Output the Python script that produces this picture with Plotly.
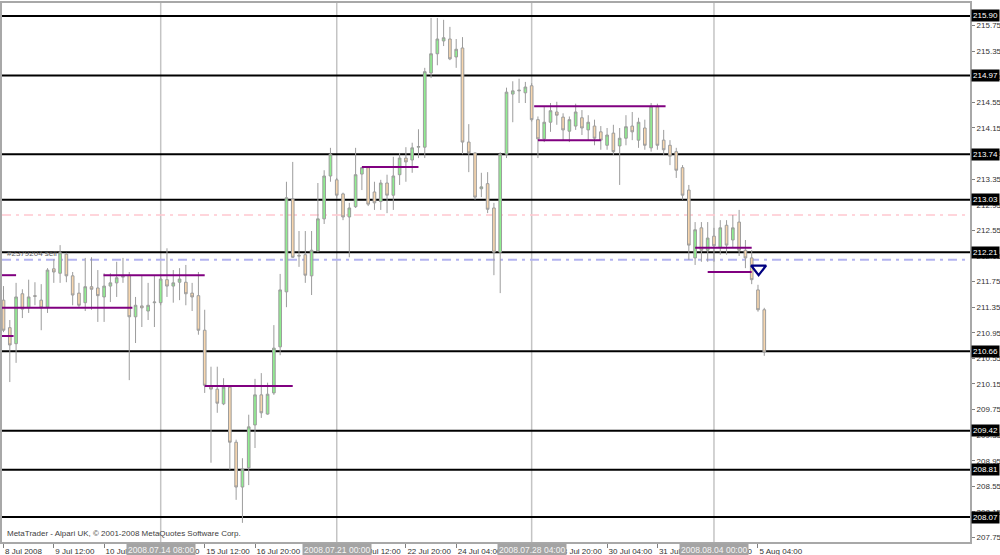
import plotly.graph_objects as go

# ---------------- data (H4 bars, bar index 0 = 8 Jul 2008 04:00) ----------------
bars = list(range(122))
opens = [211.46, 211.03, 210.78, 211.56, 211.34, 211.53, 211.46, 211.35, 211.95, 211.88,
         212.18, 211.84, 211.57, 211.42, 211.67, 211.65, 211.51, 211.68, 211.73, 211.82,
         211.85, 211.20, 211.37, 211.29, 211.42, 211.42, 211.78, 211.68, 211.74, 211.74,
         211.57, 211.53, 210.99, 210.11, 210.07, 209.84, 210.10, 209.24, 208.54, 208.84,
         209.51, 209.98, 209.68, 210.01, 210.73, 211.59, 213.04, 212.16, 212.17, 211.84,
         212.23, 212.73, 213.40, 213.34, 213.12, 212.76, 212.92, 213.43, 213.53, 213.15,
         213.00, 213.29, 213.10, 213.42, 213.68, 213.65, 213.85, 213.85, 215.01, 215.31,
         215.51, 215.54, 215.26, 215.40, 213.93, 213.76, 213.20, 213.28, 212.90, 212.21,
         213.74, 214.68, 214.73, 214.70, 214.81, 214.28, 213.98, 214.24, 214.40, 214.32,
         214.10, 214.18, 214.31, 214.12, 214.18, 214.09, 213.88, 214.07, 213.87, 213.99,
         214.18, 213.96, 214.15, 213.84, 214.48, 213.96, 213.88, 213.78, 213.53, 213.18,
         212.12, 212.59, 212.24, 212.46, 212.28, 212.63, 212.40, 212.68, 212.24, 212.12,
         211.62, 211.31]
highs = [211.68, 211.15, 211.73, 211.63, 211.78, 211.74, 211.71, 211.96, 212.10, 212.32,
         212.20, 211.90, 211.73, 212.12, 212.13, 211.93, 211.88, 211.88, 212.06, 212.12,
         211.90, 211.51, 211.85, 211.73, 211.84, 211.87, 212.27, 211.93, 211.96, 212.01,
         211.73, 211.90, 211.31, 210.42, 210.42, 210.24, 210.12, 209.28, 208.99, 209.67,
         210.23, 210.32, 210.17, 211.07, 211.87, 213.31, 213.62, 212.54, 212.54, 212.54,
         213.29, 213.49, 213.84, 213.37, 213.14, 212.98, 213.84, 213.54, 213.54, 213.31,
         213.34, 213.42, 213.70, 213.76, 213.85, 213.92, 214.13, 215.09, 215.87, 215.87,
         215.84, 215.73, 215.54, 215.57, 214.21, 213.77, 213.45, 213.46, 212.98, 213.77,
         214.78, 214.88, 214.92, 214.87, 214.85, 214.33, 214.48, 214.54, 214.56, 214.38,
         214.33, 214.53, 214.43, 214.35, 214.28, 214.18, 214.15, 214.20, 214.15, 214.35,
         214.40, 214.31, 214.28, 214.54, 214.53, 214.12, 213.96, 213.84, 213.57, 213.26,
         212.68, 212.68, 212.68, 212.59, 212.71, 212.71, 212.79, 212.87, 212.40, 212.24,
         211.70, 211.34]
lows = [210.96, 210.18, 210.48, 211.18, 211.26, 211.38, 210.99, 211.26, 211.73, 211.73,
        211.74, 211.38, 211.35, 211.29, 211.31, 211.12, 211.12, 211.43, 211.51, 211.73,
        210.21, 210.79, 211.04, 211.15, 211.04, 211.38, 211.51, 211.42, 211.46, 211.38,
        211.29, 210.92, 210.01, 208.92, 209.70, 209.82, 208.81, 208.34, 207.98, 208.57,
        209.15, 209.62, 209.67, 209.98, 210.60, 211.35, 212.12, 211.98, 211.73, 211.54,
        212.21, 212.65, 213.31, 213.06, 212.71, 212.13, 212.90, 213.18, 212.93, 212.87,
        212.87, 212.82, 212.87, 213.26, 213.31, 213.45, 213.68, 213.68, 214.93, 215.13,
        215.43, 215.21, 215.09, 213.74, 213.46, 213.03, 213.07, 212.82, 211.85, 211.57,
        213.68, 214.24, 214.54, 214.54, 214.25, 213.68, 213.93, 214.09, 214.20, 213.96,
        213.93, 214.12, 214.04, 213.96, 213.88, 213.81, 213.81, 213.73, 213.26, 213.88,
        213.96, 213.84, 213.81, 213.78, 213.81, 213.73, 213.57, 213.37, 213.03, 212.09,
        212.01, 212.06, 212.06, 212.06, 212.17, 212.17, 212.28, 212.15, 211.96, 211.71,
        211.28, 210.59]
closes = [210.99, 210.76, 211.51, 211.32, 211.51, 211.52, 211.34, 211.93, 211.90, 212.20,
          211.84, 211.54, 211.38, 211.67, 211.63, 211.53, 211.68, 211.73, 211.81, 211.83,
          211.20, 211.38, 211.34, 211.38, 211.43, 211.79, 211.68, 211.73, 211.79, 211.56,
          211.51, 210.99, 210.13, 210.07, 209.85, 210.10, 209.24, 208.54, 208.82, 209.48,
          209.98, 209.70, 209.99, 210.71, 211.62, 213.06, 212.13, 212.15, 211.85, 212.24,
          212.73, 213.40, 213.74, 213.10, 212.76, 212.90, 213.42, 213.53, 212.96, 212.98,
          213.29, 213.10, 213.40, 213.68, 213.62, 213.84, 213.86, 215.03, 215.31, 215.54,
          215.56, 215.23, 215.38, 213.93, 213.76, 213.07, 213.23, 212.88, 212.21, 213.74,
          214.71, 214.73, 214.74, 214.79, 214.28, 213.98, 214.24, 214.42, 214.35, 214.12,
          214.28, 214.40, 214.15, 214.24, 213.99, 213.96, 214.04, 213.78, 213.99, 214.17,
          214.09, 214.24, 213.88, 214.49, 213.88, 213.81, 213.71, 213.49, 213.10, 212.32,
          212.56, 212.24, 212.43, 212.31, 212.59, 212.32, 212.59, 212.24, 212.12, 211.78,
          211.31, 210.65]

# bottom time axis labels (every 8 bars)
time_tick_bars = [0, 8, 16, 24, 32, 40, 48, 56, 64, 72, 80, 88, 96, 104, 112, 120]
time_tick_labels = ["8 Jul 2008", "9 Jul 12:00", "10 Jul 20:00", "14 Jul 04:00",
                    "15 Jul 12:00", "16 Jul 20:00", "18 Jul 04:00", "21 Jul 12:00",
                    "22 Jul 20:00", "24 Jul 04:00", "25 Jul 12:00", "28 Jul 20:00",
                    "30 Jul 04:00", "31 Jul 12:00", "1 Aug 20:00", "5 Aug 04:00"]

# right price scale
price_ticks = [207.75, 208.15, 208.55, 208.95, 209.35, 209.75, 210.15, 210.55, 210.95,
               211.35, 211.75, 212.15, 212.55, 212.95, 213.35, 213.75, 214.15, 214.55,
               214.95, 215.35, 215.75]

# horizontal level lines
levels = [215.90, 214.97, 213.74, 213.03, 212.21, 210.66, 209.42, 208.81, 208.07]

# vertical line objects
vline_bars = [25, 53, 84, 113]
vline_labels = ["2008.07.14 08:00", "2008.07.21 00:00", "2008.07.28 04:00", "2008.08.04 00:00"]

# purple range segments: (start bar, end bar, price)
seg_start = [-0.3, -0.3, -0.3, 15.9, 32.0, 57.0, 84.4, 85.0, 110.0, 112.0]
seg_end = [2.0, 20.5, 1.6, 32.0, 46.0, 66.0, 105.3, 95.0, 119.0, 119.0]
seg_price = [211.85, 211.34, 210.90, 211.85, 210.12, 213.54, 214.49, 213.96, 212.28, 211.90]

order_price = 212.09      # sell order line
stop_price = 212.79       # pink dashed line
order_label = "#2379204 sell"
arrow_bar = 120.1
arrow_price = 211.95

# ---------------- figure ----------------
FONT = "Liberation Sans"
fig = go.Figure()

fig.add_trace(go.Candlestick(
    x=bars, open=opens, high=highs, low=lows, close=closes,
    increasing=dict(fillcolor="#90EE90", line=dict(color="#9C9C9C", width=1)),
    decreasing=dict(fillcolor="#F7D6AE", line=dict(color="#9C9C9C", width=1)),
    whiskerwidth=0, showlegend=False, hoverinfo="skip",
))

fig.add_trace(go.Scatter(
    x=[arrow_bar], y=[arrow_price], mode="markers",
    marker=dict(symbol="triangle-down-open", size=13, color="#000080",
                line=dict(width=2.2, color="#000080")),
    showlegend=False, hoverinfo="skip",
))

shapes = []
for b in vline_bars:
    shapes.append(dict(type="line", xref="x", yref="paper", x0=b, x1=b, y0=0, y1=1,
                       line=dict(color="#C4C4C4", width=1.5), layer="below"))
shapes.append(dict(type="line", xref="paper", yref="y", x0=0, x1=1, y0=stop_price, y1=stop_price,
                   line=dict(color="#FFC8D0", width=1.5, dash="9px,5px,3px,5px"), layer="below"))
shapes.append(dict(type="line", xref="paper", yref="y", x0=0, x1=1, y0=order_price, y1=order_price,
                   line=dict(color="#B4B4F0", width=2, dash="9px,5px,3px,5px"), layer="below"))
for lv in levels:
    shapes.append(dict(type="line", xref="paper", yref="y", x0=0, x1=1, y0=lv, y1=lv,
                       line=dict(color="black", width=2), layer="below"))
for s, e, p in zip(seg_start, seg_end, seg_price):
    shapes.append(dict(type="line", xref="x", yref="y", x0=s, x1=e, y0=p, y1=p,
                       line=dict(color="#800080", width=2)))

annotations = []
for lv in levels:
    annotations.append(dict(xref="paper", yref="y", x=1, y=lv, xanchor="left", yanchor="middle",
                            xshift=1, text=f"{lv:.2f}", showarrow=False, bgcolor="black",
                            borderpad=1, font=dict(family=FONT, size=8, color="white")))
for b, t in zip(vline_bars, vline_labels):
    annotations.append(dict(xref="x", yref="paper", x=b, y=0, xanchor="center", yanchor="top",
                            yshift=-1, text=t, showarrow=False, bgcolor="#A4A4A4",
                            borderpad=1, font=dict(family=FONT, size=8.5, color="#F4F4F4")))
annotations.append(dict(xref="paper", yref="y", x=0, y=order_price, xanchor="left",
                        yanchor="bottom", xshift=3, yshift=0, text=order_label, showarrow=False,
                        font=dict(family=FONT, size=8, color="#606060")))
annotations.append(dict(xref="paper", yref="paper", x=0, y=0, xanchor="left", yanchor="bottom",
                        xshift=3, yshift=2,
                        text="MetaTrader - Alpari UK, \u00a9 2001-2008 MetaQuotes Software Corp.",
                        showarrow=False, font=dict(family=FONT, size=8, color="#404040")))

fig.update_layout(
    width=1000, height=555,
    margin=dict(l=2, r=30, t=3, b=13, pad=0),
    paper_bgcolor="white", plot_bgcolor="white",
    boxgap=0.4,
    showlegend=False,
    shapes=shapes, annotations=annotations,
    font=dict(family=FONT, size=8, color="#333333"),
    xaxis=dict(
        range=[-0.24, 153.72], rangeslider=dict(visible=False),
        tickmode="array", tickvals=time_tick_bars, ticktext=time_tick_labels,
        ticks="outside", ticklen=4, tickcolor="#808080", tickwidth=1,
        ticklabelposition="outside right", tickangle=0, automargin=False,
        tickfont=dict(family=FONT, size=8, color="#333333"),
        showgrid=False, zeroline=False,
        showline=True, linecolor="#A8A8A8", linewidth=2, mirror=True,
    ),
    yaxis=dict(
        side="right", range=[207.681, 216.103], automargin=False,
        tickmode="array", tickvals=price_ticks, ticktext=[f"{v:.2f}" for v in price_ticks],
        ticks="outside", ticklen=3, tickcolor="#808080",
        tickfont=dict(family=FONT, size=8, color="#333333"),
        showgrid=False, zeroline=False,
        showline=True, linecolor="#A8A8A8", linewidth=2, mirror=True,
    ),
)

fig.write_html("out.html", config={"displayModeBar": False},
               post_script="document.body.style.margin='0px';document.body.style.overflow='hidden';")
